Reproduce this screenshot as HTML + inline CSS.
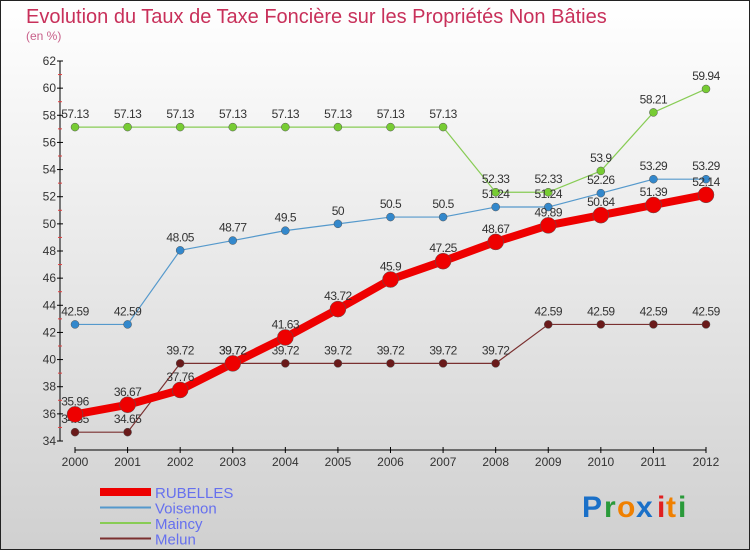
<!DOCTYPE html>
<html><head><meta charset="utf-8"><style>
body{margin:0}
#c{width:750px;height:550px;position:relative;overflow:hidden;font-family:"Liberation Sans",sans-serif}
</style></head><body>
<div id="c">
<svg id="s" width="750" height="550" xmlns="http://www.w3.org/2000/svg">
<defs><linearGradient id="bg" x1="0" y1="0" x2="0" y2="1"><stop offset="0" stop-color="#ffffff"/><stop offset="1" stop-color="#d0d0d0"/></linearGradient></defs>
<rect x="0.5" y="0.5" width="749" height="549" fill="url(#bg)" stroke="#222"/>
<text x="26" y="23" font-size="20" fill="#c8305a">Evolution du Taux de Taxe Foncière sur les Propriétés Non Bâties</text>
<text x="26" y="40" font-size="12" fill="#c8608a">(en %)</text>
<g id="axes"></g><g id="series"></g><g id="legend"></g>
<g font-size="30" font-weight="bold">
<text x="582" y="517" fill="#1a70c8">P</text><text x="604" y="517" fill="#2a9a3a">r</text><text x="617" y="517" fill="#f08000">o</text><text x="636" y="517" fill="#1a70c8">x</text><text x="657" y="517" fill="#e02020">i</text><text x="666" y="517" fill="#f08000">t</text><text x="678" y="517" fill="#2a9a3a">i</text>
</g>
</svg></div>
<script>
const years=[2000,2001,2002,2003,2004,2005,2006,2007,2008,2009,2010,2011,2012];
const yTicks=[34,36,38,40,42,44,46,48,50,52,54,56,58,60,62];
const rubelles=[35.96,36.67,37.76,39.72,41.63,43.72,45.9,47.25,48.67,49.89,50.64,51.39,52.14];
const voisenon=[42.59,42.59,48.05,48.77,49.5,50,50.5,50.5,51.24,51.24,52.26,53.29,53.29];
const maincy=[57.13,57.13,57.13,57.13,57.13,57.13,57.13,57.13,52.33,52.33,53.9,58.21,59.94];
const melun=[34.65,34.65,39.72,39.72,39.72,39.72,39.72,39.72,39.72,42.59,42.59,42.59,42.59];
const NS="http://www.w3.org/2000/svg";
const X=i=>75+i*(706-75)/12;
const Y=v=>441-(v-34)*(441-61)/28;
function mk(tag,attrs,parent){const e=document.createElementNS(NS,tag);for(const k in attrs)e.setAttribute(k,attrs[k]);parent.appendChild(e);return e;}
const ax=document.getElementById('axes');
let yl=mk('line',{x1:60,y1:61,x2:60,y2:441,stroke:'#000'},ax);


yTicks.forEach(t=>{
 mk('line',{x1:57,x2:63,y1:Y(t),y2:Y(t),stroke:'#000'},ax);
 if(t<62)mk('line',{x1:58,x2:62,y1:Y(t+1),y2:Y(t+1),stroke:'#e04040'},ax);
 const tx=mk('text',{x:56,y:Y(t)+4,'font-size':12,'text-anchor':'end',fill:'#333'},ax);tx.textContent=t;
 
 
});
let xl=mk('line',{x1:75,y1:450,x2:706,y2:450,stroke:'#000'},ax);


years.forEach((yr,i)=>{
 mk('line',{x1:X(i),x2:X(i),y1:447,y2:453,stroke:'#000'},ax);
 const tx=mk('text',{x:X(i),y:466,'font-size':12,'text-anchor':'middle',fill:'#333'},ax);tx.textContent=yr;
 
 
});
const sg=document.getElementById('series');
function draw(vals,color,w,r,name,dot){
 const g=mk('g',{},sg);
 
 
 mk('polyline',{points:vals.map((v,i)=>X(i)+','+Y(v)).join(' '),fill:'none',stroke:color,'stroke-width':w,'stroke-linejoin':'round'},g);
 vals.forEach((v,i)=>{
  const c=mk('circle',{cx:X(i),cy:Y(v),r:r,fill:dot,stroke:'#555','stroke-width':0.5},g);
  
  
  const t=mk('text',{x:X(i),y:Y(v)-9,'font-size':12,'text-anchor':'middle',fill:'#333','letter-spacing':'-0.5'},g);t.textContent=v;
  
  
 });
}
draw(melun,'#7a3030',1.2,4,'melun','#6a1a1a');
draw(maincy,'#88cc55',1.2,4,'maincy','#77cc33');
draw(voisenon,'#5599cc',1.2,4,'voisenon','#3388cc');
draw(rubelles,'#ee0000',8,8,'rubelles','#ee0000');
const lg=document.getElementById('legend');
const items=[['RUBELLES','#ee0000',8],['Voisenon','#5599cc',2],['Maincy','#88cc55',2],['Melun','#7a3030',2]];
items.forEach((it,i)=>{
 const y=492+i*15.5;
 const g=mk('g',{},lg);
 
 
 mk('line',{x1:100,x2:151,y1:y,y2:y,stroke:it[1],'stroke-width':it[2]},g);
 const t=mk('text',{x:155,y:y+6,'font-size':15,fill:'#6670ee'},g);t.textContent=it[0];
});
</script>
</body></html>
